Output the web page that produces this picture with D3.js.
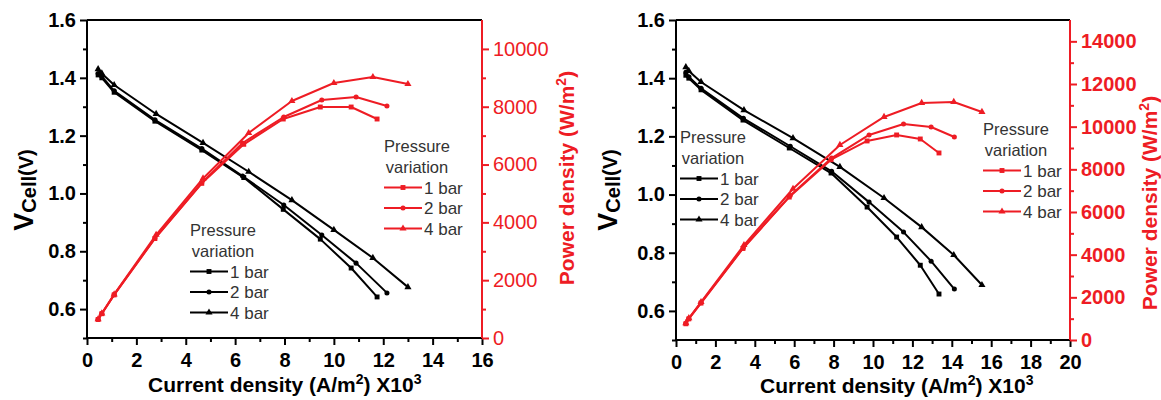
<!DOCTYPE html>
<html>
<head>
<meta charset="utf-8">
<script src="https://cdn.jsdelivr.net/npm/d3@7"></script>
<style>
  body { margin: 0; background: #fff; }
  text { font-family: "Liberation Sans", Arial, sans-serif; }
</style>
</head>
<body>
<script>
// ---- data ----
// left panel: current density (x10^3 A/m2), cell voltage (V), power density (W/m2)
var leftI1 = [0.45, 0.6, 1.1, 2.75, 4.65, 6.35, 7.95, 9.45, 10.7, 11.75];
var leftV1 = [1.41, 1.40, 1.35, 1.25, 1.15, 1.055, 0.945, 0.842, 0.742, 0.642];
var leftP1 = [640, 840, 1490, 3440, 5350, 6700, 7575, 7990, 7990, 7575];

var leftI2 = [0.45, 0.6, 1.1, 2.75, 4.65, 6.3, 7.97, 9.51, 10.9, 12.15];
var leftV2 = [1.415, 1.405, 1.355, 1.255, 1.155, 1.06, 0.96, 0.856, 0.759, 0.656];
var leftP2 = [645, 845, 1500, 3450, 5370, 6745, 7645, 8232, 8336, 8025];

var leftI4 = [0.45, 0.6, 1.1, 2.8, 4.7, 6.55, 8.3, 10.0, 11.58, 13.0];
var leftV4 = [1.43, 1.415, 1.375, 1.275, 1.175, 1.075, 0.977, 0.874, 0.777, 0.676];
var leftP4 = [650, 850, 1510, 3570, 5520, 7091, 8198, 8820, 9028, 8786];

// right panel
var rightI1 = [0.5, 0.65, 1.27, 3.4, 5.75, 7.87, 9.7, 11.2, 12.4, 13.35];
var rightV1 = [1.41, 1.40, 1.36, 1.256, 1.16, 1.074, 0.957, 0.854, 0.757, 0.658];
var rightP1 = [760, 990, 1730, 4290, 6700, 8450, 9330, 9611, 9423, 8767];

var rightI2 = [0.5, 0.65, 1.27, 3.42, 5.8, 7.9, 9.8, 11.55, 12.95, 14.13];
var rightV2 = [1.42, 1.405, 1.365, 1.262, 1.166, 1.08, 0.974, 0.871, 0.771, 0.675];
var rightP2 = [770, 1000, 1750, 4330, 6770, 8530, 9611, 10127, 9986, 9517];

var rightI4 = [0.5, 0.65, 1.27, 3.45, 5.94, 8.32, 10.56, 12.47, 14.1, 15.53];
var rightV4 = [1.438, 1.425, 1.387, 1.29, 1.194, 1.095, 0.988, 0.888, 0.792, 0.689];
var rightP4 = [790, 1020, 1780, 4450, 7090, 9142, 10455, 11111, 11158, 10689];

var seriesNames = ["1 bar", "2 bar", "4 bar"];
var seriesMarkers = ["square", "circle", "triangle"];

var voltTicks = [0.6, 0.8, 1.0, 1.2, 1.4, 1.6];
var leftXTicks = [0, 2, 4, 6, 8, 10, 12, 14, 16];
var rightXTicks = [0, 2, 4, 6, 8, 10, 12, 14, 16, 18, 20];
var leftPowerTicks = [0, 2000, 4000, 6000, 8000, 10000];
var rightPowerTicks = [0, 2000, 4000, 6000, 8000, 10000, 12000, 14000];

var RED = "#ee1c24";
var W = 1161, H = 400;

var svg = d3.select("body").append("svg")
    .attr("width", W)
    .attr("height", H);

function zipSeries(I, Y) {
  return I.map(function(d, i) { return [d, Y[i]]; });
}

var symbolFor = {
  square: d3.symbol().type(d3.symbolSquare).size(24),
  circle: d3.symbol().type(d3.symbolCircle).size(20),
  triangle: d3.symbol().type(d3.symbolTriangle).size(22)
};

function drawSeries(g, pts, x, y, color, marker, width) {
  var line = d3.line()
      .x(function(d) { return x(d[0]); })
      .y(function(d) { return y(d[1]); });
  g.append("path")
      .datum(pts)
      .attr("fill", "none")
      .attr("stroke", color)
      .attr("stroke-width", width)
      .attr("stroke-linejoin", "round")
      .attr("d", line);
  g.selectAll(null)
      .data(pts)
      .enter()
      .append("path")
      .attr("transform", function(d) { return "translate(" + x(d[0]) + "," + y(d[1]) + ")"; })
      .attr("d", symbolFor[marker]())
      .attr("fill", color);
}

function drawLegend(g, lx, ly, color) {
  // lx = centre of "Pressure / variation", ly = baseline of "Pressure"
  g.append("text").attr("x", lx).attr("y", ly).attr("text-anchor", "middle")
      .attr("font-size", 16.5).attr("fill", "#333").text("Pressure");
  g.append("text").attr("x", lx).attr("y", ly + 20.5).attr("text-anchor", "middle")
      .attr("font-size", 16.5).attr("fill", "#333").text("variation");
  seriesNames.forEach(function(name, i) {
    var yy = ly + 35.5 + i * 20.5;
    var x0 = lx - 33, x1 = lx + 5;
    g.append("line").attr("x1", x0).attr("x2", x1).attr("y1", yy).attr("y2", yy)
        .attr("stroke", color).attr("stroke-width", 2);
    g.append("path")
        .attr("transform", "translate(" + ((x0 + x1) / 2) + "," + yy + ")")
        .attr("d", symbolFor[seriesMarkers[i]]())
        .attr("fill", color);
    g.append("text").attr("x", x1 + 2).attr("y", yy + 6)
        .attr("font-size", 17).attr("fill", "#333").text(name);
  });
}

function drawPanel(p) {
  var g = svg.append("g");

  var x = d3.scaleLinear().domain([0, p.xMax]).range([p.left, p.right]);
  var yV = d3.scaleLinear().domain([0.5, 1.6]).range([p.bottom, p.top]);
  var yP = d3.scaleLinear().domain([0, p.pMax]).range([p.bottom, p.top]);

  // frame top line
  g.append("line").attr("x1", p.left).attr("x2", p.right).attr("y1", p.top).attr("y2", p.top)
      .attr("stroke", "#000").attr("stroke-width", 2);

  // minor ticks
  var xMinor = d3.range(1, p.xMax, 2);
  g.append("g").attr("transform", "translate(0," + p.bottom + ")")
      .call(d3.axisBottom(x).tickValues(xMinor).tickSize(4).tickFormat(""))
      .call(function(a) { a.select(".domain").remove(); a.selectAll("line").attr("stroke-width", 2); });
  g.append("g").attr("transform", "translate(" + p.left + ",0)")
      .call(d3.axisLeft(yV).tickValues([0.5, 0.7, 0.9, 1.1, 1.3, 1.5]).tickSize(4).tickFormat(""))
      .call(function(a) { a.select(".domain").remove(); a.selectAll("line").attr("stroke-width", 2); });
  g.append("g").attr("transform", "translate(" + p.right + ",0)")
      .call(d3.axisRight(yP).tickValues(d3.range(1000, p.pMax, 2000)).tickSize(4).tickFormat(""))
      .call(function(a) { a.select(".domain").remove(); a.selectAll("line").attr("stroke", RED).attr("stroke-width", 2); });

  // bottom axis
  var gx = g.append("g").attr("transform", "translate(0," + p.bottom + ")")
      .call(d3.axisBottom(x).tickValues(p.xTicks).tickSize(7).tickPadding(8).tickFormat(d3.format("d")));
  gx.select(".domain").attr("stroke-width", 2).attr("d", "M" + p.left + ",0H" + p.right);
  gx.selectAll("line").attr("stroke-width", 2);
  gx.selectAll("text").attr("font-size", 20).attr("font-weight", "bold").attr("fill", "#000")
      .attr("font-family", "Liberation Sans, Arial, sans-serif");

  // left voltage axis
  var gy = g.append("g").attr("transform", "translate(" + p.left + ",0)")
      .call(d3.axisLeft(yV).tickValues(voltTicks).tickSize(7).tickPadding(4).tickFormat(d3.format(".1f")));
  gy.select(".domain").attr("stroke-width", 2).attr("d", "M0," + p.bottom + "V" + p.top);
  gy.selectAll("line").attr("stroke-width", 2);
  gy.selectAll("text").attr("font-size", 20).attr("font-weight", "bold").attr("fill", "#000")
      .attr("font-family", "Liberation Sans, Arial, sans-serif");

  // right power axis (red)
  var gp = g.append("g").attr("transform", "translate(" + p.right + ",0)")
      .call(d3.axisRight(yP).tickValues(p.pTicks).tickSize(7).tickPadding(4).tickFormat(d3.format("d")));
  gp.select(".domain").attr("stroke", RED).attr("stroke-width", 2).attr("d", "M0," + p.bottom + "V" + p.top);
  gp.selectAll("line").attr("stroke", RED).attr("stroke-width", 2);
  gp.selectAll("text").attr("font-size", 20).attr("font-weight", p.redBold ? "bold" : "normal")
      .attr("fill", RED).attr("font-family", "Liberation Sans, Arial, sans-serif");

  // curves
  var plot = g.append("g");
  p.volt.forEach(function(s, i) {
    drawSeries(plot, s, x, yV, "#000", seriesMarkers[i], 2);
  });
  p.power.forEach(function(s, i) {
    drawSeries(plot, s, x, yP, RED, seriesMarkers[i], 2);
  });

  // legends
  drawLegend(g, p.blackLegend[0], p.blackLegend[1], "#000");
  drawLegend(g, p.redLegend[0], p.redLegend[1], RED);

  // axis titles
  var yl = g.append("text")
      .attr("transform", "translate(" + p.vLabel[0] + "," + p.vLabel[1] + ") rotate(-90)")
      .attr("text-anchor", "middle").attr("font-weight", "bold").attr("fill", "#000");
  yl.append("tspan").attr("font-size", 27).text("V");
  yl.append("tspan").attr("font-size", 20).attr("dy", 3).text("Cell");
  yl.append("tspan").attr("font-size", 20).attr("dy", -3).text("(V)");

  var pl = g.append("text")
      .attr("transform", "translate(" + p.pLabel[0] + "," + p.pLabel[1] + ") rotate(-90)")
      .attr("text-anchor", "middle").attr("font-weight", "bold").attr("font-size", 21).attr("fill", RED);
  pl.append("tspan").text("Power density (W/m");
  pl.append("tspan").attr("font-size", 14).attr("dy", -8).text("2");
  pl.append("tspan").attr("dy", 8).text(")");

  var xl = g.append("text")
      .attr("x", p.xLabel[0]).attr("y", p.xLabel[1])
      .attr("font-weight", "bold").attr("font-size", 21).attr("fill", "#000");
  xl.append("tspan").text("Current density (A/m");
  xl.append("tspan").attr("font-size", 14).attr("dy", -8).text("2");
  xl.append("tspan").attr("dy", 8).text(p.xSuffix);
  xl.append("tspan").attr("font-size", 14).attr("dy", -8).text("3");
}

drawPanel({
  left: 87, right: 482, top: 20, bottom: 338,
  xMax: 16, pMax: 11000,
  xTicks: leftXTicks, pTicks: leftPowerTicks, redBold: false,
  volt: [zipSeries(leftI1, leftV1), zipSeries(leftI2, leftV2), zipSeries(leftI4, leftV4)],
  power: [zipSeries(leftI1, leftP1), zipSeries(leftI2, leftP2), zipSeries(leftI4, leftP4)],
  blackLegend: [223, 236], redLegend: [417, 152],
  vLabel: [33, 190], pLabel: [574, 178], xLabel: [148, 392], xSuffix: ") X10"
});

drawPanel({
  left: 676, right: 1070, top: 20, bottom: 340,
  xMax: 20, pMax: 15000,
  xTicks: rightXTicks, pTicks: rightPowerTicks, redBold: true,
  volt: [zipSeries(rightI1, rightV1), zipSeries(rightI2, rightV2), zipSeries(rightI4, rightV4)],
  power: [zipSeries(rightI1, rightP1), zipSeries(rightI2, rightP2), zipSeries(rightI4, rightP4)],
  blackLegend: [713, 143], redLegend: [1016, 135],
  vLabel: [617, 190], pLabel: [1157, 203], xLabel: [760, 393], xSuffix: ")  X10"
});
</script>
</body>
</html>
